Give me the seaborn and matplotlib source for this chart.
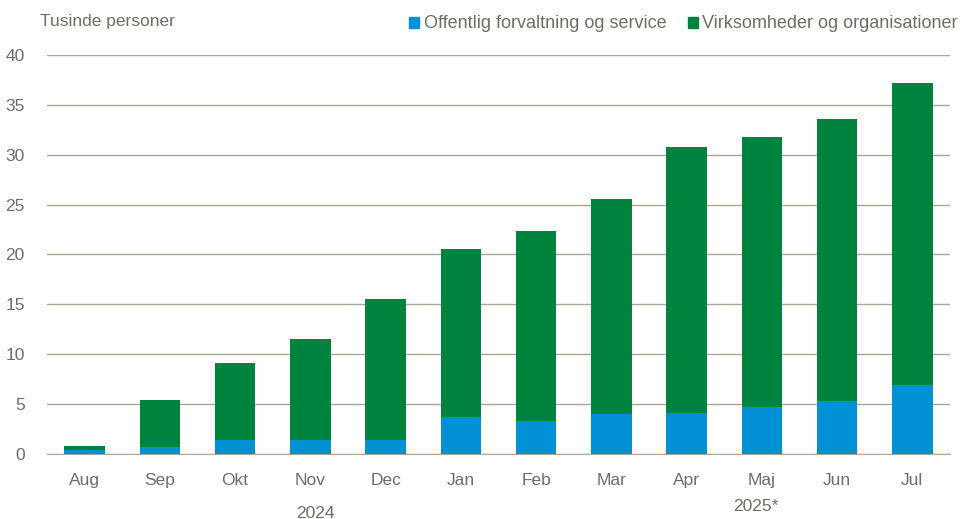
import matplotlib
matplotlib.use("Agg")
import matplotlib.pyplot as plt
import seaborn as sns
import pandas as pd
from matplotlib.patches import Patch

months = ["Aug", "Sep", "Okt", "Nov", "Dec", "Jan", "Feb", "Mar", "Apr", "Maj", "Jun", "Jul"]
offentlig = [0.4, 0.7, 1.4, 1.4, 1.4, 3.7, 3.3, 4.0, 4.1, 4.7, 5.3, 6.95]
total = [0.8, 5.4, 9.1, 11.5, 15.5, 20.6, 22.4, 25.6, 30.8, 31.8, 33.6, 37.2]
years = ["2024", "2025*"]

BLUE = "#0090d4"
GREEN = "#00843d"
GRID = "#a8a898"
TXT = "#6d6d62"

df = pd.DataFrame({"month": months, "offentlig": offentlig, "total": total})

sns.set_style("white")
plt.rcParams["font.family"] = ["Liberation Sans", "DejaVu Sans"]

fig = plt.figure(figsize=(9.61, 5.19), dpi=100)
ax = fig.add_axes([47 / 961, 1 - 454 / 519, (950 - 47) / 961, (454 - 55) / 519])

sns.barplot(data=df, x="month", y="total", color=GREEN, saturation=1, width=0.54, ax=ax, zorder=3)
sns.barplot(data=df, x="month", y="offentlig", color=BLUE, saturation=1, width=0.54, ax=ax, zorder=3)
for p in ax.patches:
    p.set_edgecolor("none")

ax.set_ylim(0, 40)
ax.set_xlim(-0.5, 11.5)
ax.set_yticks(range(0, 41, 5))
ax.yaxis.grid(True, color=GRID, linewidth=1)
ax.set_axisbelow(True)
ax.set_xlabel("")
ax.set_ylabel("")
for s in ["top", "right", "left"]:
    ax.spines[s].set_visible(False)
ax.spines["bottom"].set_color(GRID)
ax.tick_params(axis="both", length=0, labelsize=12.5, colors=TXT)
ax.tick_params(axis="x", pad=14)
ax.tick_params(axis="y", pad=16)

ax.text(3.06, -0.13, years[0], transform=ax.get_xaxis_transform(), ha="center", va="top",
        fontsize=12.5, color=TXT)
ax.text(8.92, -0.113, years[1], transform=ax.get_xaxis_transform(), ha="center", va="top",
        fontsize=12.5, color=TXT)

fig.text(40 / 961, 1 - 22 / 519, "Tusinde personer", ha="left", va="center", fontsize=12.5, color=TXT)

handles = [Patch(color=BLUE, label="Offentlig forvaltning og service"),
           Patch(color=GREEN, label="Virksomheder og organisationer")]
fig.legend(handles=handles, loc="center right", bbox_to_anchor=(958 / 961, 1 - 24 / 519), ncol=2,
           frameon=False, fontsize=13, labelcolor=TXT, handlelength=0.55, handleheight=0.55,
           handletextpad=0.25, columnspacing=1.2, borderaxespad=0, borderpad=0)

fig.savefig("out.png", dpi=100)
